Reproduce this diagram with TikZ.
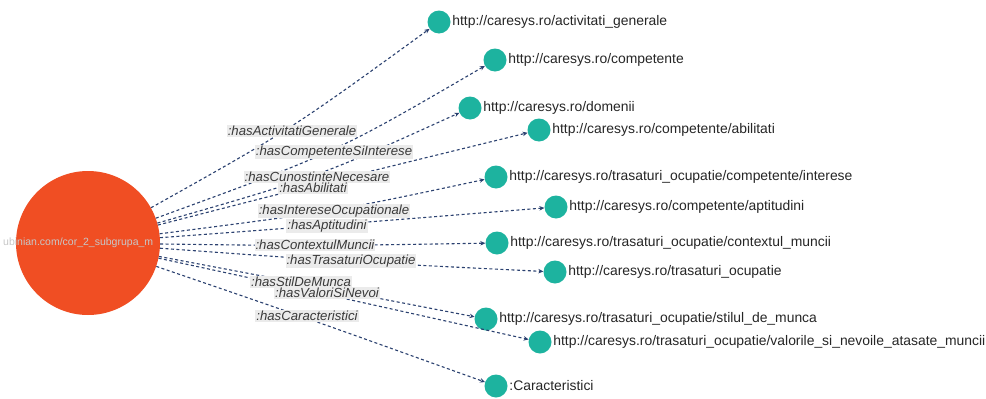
\documentclass[tikz,border=0pt]{standalone}
\usepackage{fontspec}
\setmainfont{Liberation Sans}
\usetikzlibrary{arrows.meta,positioning}
\definecolor{srcfill}{HTML}{F04E23}
\definecolor{tgtfill}{HTML}{1DB39F}
\definecolor{relblue}{HTML}{2B4170}
\definecolor{lblbg}{HTML}{EBEBEB}
\definecolor{lbltext}{HTML}{3A3A3A}
\tikzset{
  srcnode/.style={circle, fill=srcfill, minimum size=144pt, inner sep=0pt},
  srcname/.style={font=\fontsize{10.5}{12}\selectfont, text=black!22, anchor=west, inner sep=0pt},
  tgt/.style={circle, fill=tgtfill, minimum size=23pt, inner sep=0pt},
  tname/.style={font=\fontsize{13.9}{15}\selectfont, text=black!85, anchor=west, inner sep=0pt},
  rel/.style={-{Stealth[length=5pt,width=4.5pt]}, draw=relblue, line width=1.1pt, dash pattern=on 3pt off 2.5pt},
  rlbl/.style={font=\fontsize{13.2}{15}\selectfont\itshape, text=lbltext, fill=lblbg, inner xsep=1pt, inner ysep=1.2pt},
}
\begin{document}
\begin{tikzpicture}[x=1pt,y=-1pt]
  \useasboundingbox[fill=white] (0,0) rectangle (986,399);
  \node[srcnode] (s) at (88,243) {};
  \node[srcname] (sname) at (3,243) {ubinian.com/cor\_2\_subgrupa\_m};
  \node[tgt] (t1) at (439,22) {};
  \node[tgt] (t2) at (495,60) {};
  \node[tgt] (t3) at (470,108) {};
  \node[tgt] (t4) at (539,130) {};
  \node[tgt] (t5) at (496,177) {};
  \node[tgt] (t6) at (556,207) {};
  \node[tgt] (t7) at (497,243) {};
  \node[tgt] (t8) at (555,272) {};
  \node[tgt] (t9) at (486,319) {};
  \node[tgt] (t10) at (540,342) {};
  \node[tgt] (t11) at (496,386) {};
  \node[tname, right=1.5pt of t1] {http://caresys.ro/activitati\_generale};
  \node[tname, right=1.5pt of t2] {http://caresys.ro/competente};
  \node[tname, right=1.5pt of t3] {http://caresys.ro/domenii};
  \node[tname, right=1.5pt of t4] {http://caresys.ro/competente/abilitati};
  \node[tname, right=1.5pt of t5] {http://caresys.ro/trasaturi\_ocupatie/competente/interese};
  \node[tname, right=1.5pt of t6] {http://caresys.ro/competente/aptitudini};
  \node[tname, right=1.5pt of t7] {http://caresys.ro/trasaturi\_ocupatie/contextul\_muncii};
  \node[tname, right=1.5pt of t8] {http://caresys.ro/trasaturi\_ocupatie};
  \node[tname, right=1.5pt of t9] {http://caresys.ro/trasaturi\_ocupatie/stilul\_de\_munca};
  \node[tname, right=1.5pt of t10] {http://caresys.ro/trasaturi\_ocupatie/valorile\_si\_nevoile\_atasate\_muncii};
  \node[tname, right=1.5pt of t11] {:Caracteristici};
  \draw[rel] (s) .. controls (290,130) .. (t1);
  \draw[rel] (s) .. controls (337,152) .. (t2);
  \draw[rel] (s) .. controls (318,177) .. (t3);
  \draw[rel] (s) .. controls (302,188) .. (t4);
  \draw[rel] (s) .. controls (337,211) .. (t5);
  \draw[rel] (s) .. controls (318,226) .. (t6);
  \draw[rel] (s) .. controls (311,246) .. (t7);
  \draw[rel] (s) .. controls (350,262) .. (t8);
  \draw[rel] (s) .. controls (294,282) .. (t9);
  \draw[rel] (s) .. controls (320,293) .. (t10);
  \draw[rel] (s) .. controls (301,316) .. (t11);
  \node[rlbl] (l1) at (292,131) {:hasActivitatiGenerale};
  \node[rlbl] (l2) at (334,152) {:hasCompetenteSiInterese};
  \node[rlbl] (l3) at (317,177) {:hasCunostinteNecesare};
  \node[rlbl] (l4) at (313,188) {:hasAbilitati};
  \node[rlbl] (l5) at (334,211) {:hasIntereseOcupationale};
  \node[rlbl] (l6) at (327,226) {:hasAptitudini};
  \node[rlbl] (l7) at (315,245) {:hasContextulMuncii};
  \node[rlbl] (l8) at (351,261) {:hasTrasaturiOcupatie};
  \node[rlbl] (l9) at (301,282) {:hasStilDeMunca};
  \node[rlbl] (l10) at (327,293) {:hasValoriSiNevoi};
  \node[rlbl] (l11) at (307,316) {:hasCaracteristici};
\end{tikzpicture}
\end{document}
